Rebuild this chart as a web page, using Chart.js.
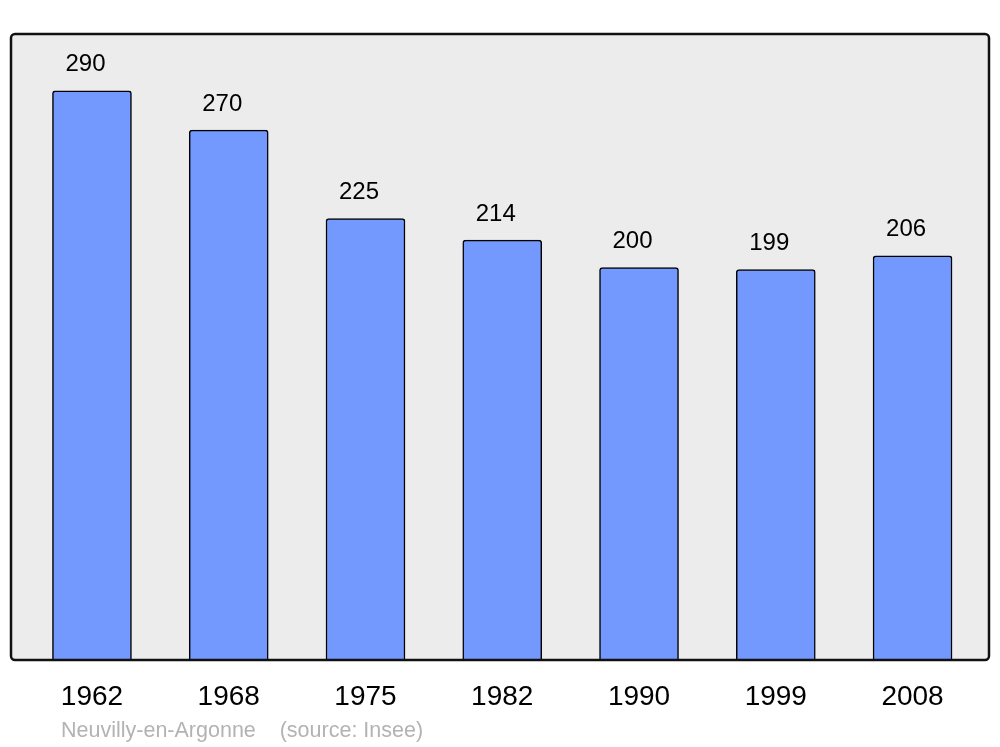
<!DOCTYPE html>
<html>
<head>
<meta charset="utf-8">
<script src="https://cdn.jsdelivr.net/npm/chart.js@4"></script>
<style>
  html, body { margin: 0; padding: 0; background: #fff; }
  #wrap { width: 1000px; height: 747px; }
</style>
</head>
<body>
<div id="wrap"><canvas id="myChart" width="1000" height="747"></canvas></div>
<script>
const years = ["1962", "1968", "1975", "1982", "1990", "1999", "2008"];
const population = [290, 270, 225, 214, 200, 199, 206];
const footerText = "Neuvilly-en-Argonne    (source: Insee)";

const fontFamily = "'Liberation Sans', Arial, sans-serif";

// grey panel behind the bars, border drawn on top
const panel = {
  id: "panel",
  beforeDatasetsDraw(chart) {
    const { ctx, chartArea: a } = chart;
    ctx.save();
    ctx.beginPath();
    ctx.roundRect(a.left, a.top, a.right - a.left, a.bottom - a.top, 4);
    ctx.fillStyle = "#ececec";
    ctx.fill();
    ctx.restore();
  },
  afterDatasetsDraw(chart) {
    const { ctx, chartArea: a } = chart;
    ctx.save();
    ctx.beginPath();
    ctx.roundRect(a.left, a.top, a.right - a.left, a.bottom - a.top, 4);
    ctx.lineWidth = 2.5;
    ctx.strokeStyle = "#111";
    ctx.stroke();

    // value labels above bars
    ctx.fillStyle = "#000";
    ctx.font = "24px " + fontFamily;
    ctx.textAlign = "center";
    ctx.textBaseline = "alphabetic";
    chart.getDatasetMeta(0).data.forEach((bar, i) => {
      ctx.fillText(String(population[i]), bar.x - 6.5, bar.y - 19.5);
    });

    // footer
    ctx.fillStyle = "#b3b3b3";
    ctx.font = "21.5px " + fontFamily;
    ctx.textAlign = "left";
    ctx.fillText(footerText, 61, 737);
    ctx.restore();
  },
};

const data = {
  datasets: [
    {
      data: population.map((v, i) => ({ x: i, y: v })),
      backgroundColor: "#7399ff",
      borderColor: "#000",
      borderWidth: 1.5,
      borderRadius: 3,
      borderSkipped: "bottom",
      barThickness: 79,
    },
  ],
};

const config = {
  type: "bar",
  data: data,
  options: {
    responsive: false,
    animation: false,
    layout: { padding: { left: 11, right: 11, top: 34, bottom: 0 } },
    plugins: { legend: { display: false }, tooltip: { enabled: false } },
    scales: {
      x: {
        type: "linear",
        offset: false,
        min: -0.592,
        max: 6.559,
        grid: { display: false, drawTicks: false, offset: false },
        border: { display: false },
        afterBuildTicks: (axis) => {
          axis.ticks = years.map((_, i) => ({ value: i }));
        },
        afterFit: (axis) => {
          axis.height = 87;
        },
        ticks: {
          autoSkip: false,
          maxRotation: 0,
          padding: 20,
          color: "#000",
          font: { family: fontFamily, size: 28 },
          callback: (v) => years[v],
        },
      },
      y: {
        display: false,
        min: 0,
        max: 319,
      },
    },
  },
  plugins: [panel],
};

const myChart = new Chart(document.getElementById("myChart"), config);
</script>
</body>
</html>
